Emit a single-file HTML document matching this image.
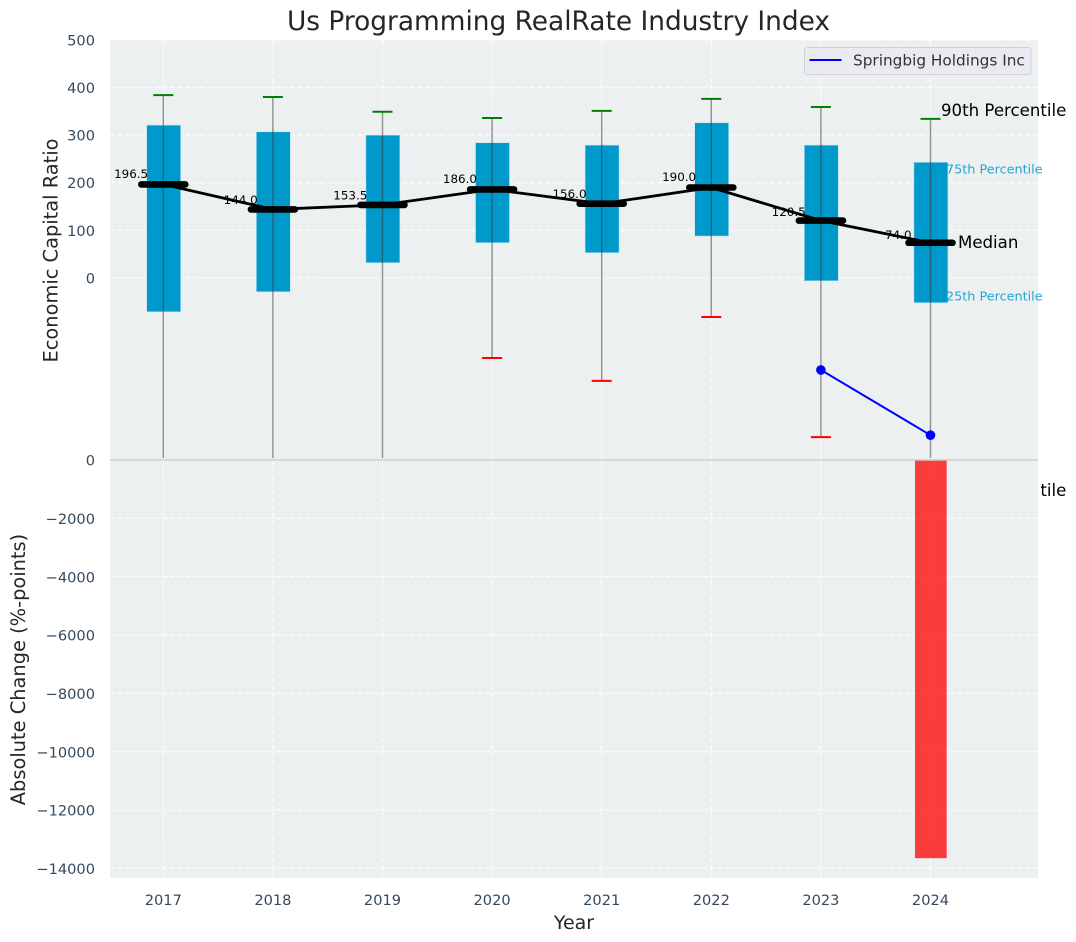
<!DOCTYPE html>
<html lang="en">
<head>
<meta charset="utf-8">
<title>Us Programming RealRate Industry Index</title>
<style>
html,body{margin:0;padding:0;background:#fff;width:1076px;height:942px;overflow:hidden}
svg{display:block;font-family:"DejaVu Sans","Liberation Sans",sans-serif}
</style>
</head>
<body>
<svg id="chart" width="1076" height="942" viewBox="0 0 1076 942" xmlns="http://www.w3.org/2000/svg">
<defs>
<clipPath id="top-clip"><rect x="110" y="40" width="928" height="418"/></clipPath>
<clipPath id="p10-note-clip"><rect x="1040.6" y="470" width="36" height="40"/></clipPath>
</defs>
<rect x="0" y="0" width="1076" height="942" fill="#ffffff"/>
<rect x="110" y="40" width="928" height="420" fill="#ecf0f1"/>
<g id="top-grid"></g>
<g id="top-marks"></g>
<g id="top-notes"></g>
<rect x="110" y="460" width="928" height="418" fill="#ecf0f1"/>
<g id="bottom-grid"></g>
<g id="bottom-marks"></g>
<line x1="110" x2="1038" y1="460" y2="460" stroke="#cccccc" stroke-width="1.5"/>
<g id="legend">
<rect x="804.5" y="47.5" width="226.5" height="27" rx="3" fill="#eaeaf2" stroke="#cfcfd4" stroke-width="1"/>
<line x1="809.5" x2="841.5" y1="60" y2="60" stroke="#0000ff" stroke-width="2"/>
<text x="853" y="65.5" font-size="15.3" fill="#333333">Springbig Holdings Inc</text>
</g>
<text x="558.5" y="30" text-anchor="middle" font-size="26.4" fill="#262626">Us Programming RealRate Industry Index</text>
<text transform="translate(57.3,250.5) rotate(-90)" text-anchor="middle" font-size="19.4" fill="#262626">Economic Capital Ratio</text>
<text transform="translate(25,669.5) rotate(-90)" text-anchor="middle" font-size="19.4" fill="#262626">Absolute Change (%-points)</text>
<text x="574" y="929" text-anchor="middle" font-size="19" fill="#262626">Year</text>
<g id="tick-labels"></g>
</svg>
<script>
const years = [2017, 2018, 2019, 2020, 2021, 2022, 2023, 2024];
const p90 = [384, 380, 349, 336, 351, 376, 359, 334];
const p75 = [321, 307, 300, 284, 279, 326, 279, 243];
const medians = [196.5, 144.0, 153.5, 186.0, 156.0, 190.0, 120.5, 74.0];
const p25 = [-71, -29, 32, 74, 53, 88, -6, -52];
const p10 = [-430, -420, -410, -168, -216, -82, -334, -420];
const companyYears = [2023, 2024];
const companyValues = [-193, -330];
const changeYears = [2024];
const changeValues = [-13650];
const upperTicks = [0, 100, 200, 300, 400, 500];
const lowerTicks = [0, -2000, -4000, -6000, -8000, -10000, -12000, -14000];

const NS = 'http://www.w3.org/2000/svg';
const xAxis = function (year) { return 163.3 + (year - 2017) * 109.6; };
const yUpper = function (value) { return 278 - value * 0.4763; };
const yLower = function (value) { return 460 - value * 0.02917; };

function make(parent, tag, attrs, text) {
  const el = document.createElementNS(NS, tag);
  for (const key in attrs) el.setAttribute(key, attrs[key]);
  if (text !== undefined) el.textContent = text;
  parent.appendChild(el);
  return el;
}

const topGrid = document.getElementById('top-grid');
const bottomGrid = document.getElementById('bottom-grid');
const topMarks = document.getElementById('top-marks');
const topNotes = document.getElementById('top-notes');
const bottomMarks = document.getElementById('bottom-marks');
const tickLabels = document.getElementById('tick-labels');
topMarks.setAttribute('clip-path', 'url(#top-clip)');

const gridStyle = { stroke: '#ffffff', 'stroke-width': 1.2, 'stroke-dasharray': '5 2.5', 'stroke-opacity': 0.85 };

upperTicks.forEach(function (tick) {
  const y = yUpper(tick);
  const line = make(topGrid, 'line', Object.assign({ x1: 110, x2: 1038, y1: y, y2: y }, gridStyle));
  
  
  const label = make(tickLabels, 'text', { x: 95, y: y + 5.5, 'text-anchor': 'end', 'font-size': 14.6, fill: '#34495e' }, String(tick));
  
  
});

lowerTicks.forEach(function (tick) {
  const y = yLower(tick);
  const line = make(bottomGrid, 'line', Object.assign({ x1: 110, x2: 1038, y1: y, y2: y }, gridStyle));
  
  
  const label = make(tickLabels, 'text', { x: 95, y: y + 5.6, 'text-anchor': 'end', 'font-size': 14.6, fill: '#34495e' }, String(tick).replace('-', '\u2212'));
  
  
});

years.forEach(function (year) {
  const x = xAxis(year);
  const upperLine = make(topGrid, 'line', Object.assign({ x1: x, x2: x, y1: 40, y2: 460 }, gridStyle));
  
  
  const lowerLine = make(bottomGrid, 'line', Object.assign({ x1: x, x2: x, y1: 460, y2: 878 }, gridStyle));
  
  
  const label = make(tickLabels, 'text', { x: x, y: 905, 'text-anchor': 'middle', 'font-size': 14.6, fill: '#34495e' }, String(year));
  
  
});

years.forEach(function (year, i) {
  const x = xAxis(year);
  const box = make(topMarks, 'rect', {
    x: x - 16.6, y: yUpper(p75[i]), width: 34, height: yUpper(p25[i]) - yUpper(p75[i]),
    fill: '#0099cc', stroke: '#bfe3ef', 'stroke-width': 0.6
  });
  
  
});

years.forEach(function (year, i) {
  const x = xAxis(year);
  const whisker = make(topMarks, 'line', {
    x1: x, x2: x, y1: yUpper(p90[i]), y2: yUpper(p10[i]), stroke: '#3a3a3a', 'stroke-opacity': 0.55, 'stroke-width': 1.4
  });
  
  
  const capHigh = make(topMarks, 'line', {
    x1: x - 10, x2: x + 10, y1: yUpper(p90[i]), y2: yUpper(p90[i]), stroke: '#008000', 'stroke-width': 2
  });
  
  
  const capLow = make(topMarks, 'line', {
    x1: x - 10, x2: x + 10, y1: yUpper(p10[i]), y2: yUpper(p10[i]), stroke: '#ff0000', 'stroke-width': 2
  });
  
  
});

const medianPath = make(topMarks, 'polyline', {
  points: years.map(function (year, i) { return xAxis(year) + ',' + yUpper(medians[i]); }).join(' '),
  fill: 'none', stroke: '#000000', 'stroke-width': 2.8
});



years.forEach(function (year, i) {
  const x = xAxis(year);
  const y = yUpper(medians[i]);
  const bar = make(topMarks, 'line', {
    x1: x - 22, x2: x + 22, y1: y, y2: y, stroke: '#000000', 'stroke-width': 6.6, 'stroke-linecap': 'round'
  });
  
  
});

const companyPath = make(topMarks, 'polyline', {
  points: companyYears.map(function (year, i) { return xAxis(year) + ',' + yUpper(companyValues[i]); }).join(' '),
  fill: 'none', stroke: '#0000ff', 'stroke-width': 2
});



companyYears.forEach(function (year, i) {
  const dot = make(topMarks, 'circle', { cx: xAxis(year), cy: yUpper(companyValues[i]), r: 4.8, fill: '#0000ff' });
  
  
});

years.forEach(function (year, i) {
  const label = make(topNotes, 'text', {
    x: xAxis(year) - 32.2, y: yUpper(medians[i] * 1.05) - 1.9, 'text-anchor': 'middle', 'font-size': 11.9, fill: '#000000'
  }, medians[i].toFixed(1));
  
  
});

const lastX = xAxis(years[years.length - 1]);
const lastIndex = years.length - 1;
const note90 = make(topNotes, 'text', { x: lastX + 10.5, y: yUpper(p90[lastIndex]) - 2.8, 'font-size': 16.6, fill: '#000000' }, '90th Percentile');


const note75 = make(topNotes, 'text', { x: lastX + 15.5, y: yUpper(p75[lastIndex]) + 11, 'font-size': 12.8, fill: '#0099cc', 'fill-opacity': 0.85 }, '75th Percentile');


const noteMedian = make(topNotes, 'text', { x: lastX + 27.5, y: yUpper(medians[lastIndex]) + 5.2, 'font-size': 16.6, fill: '#000000' }, 'Median');


const note25 = make(topNotes, 'text', { x: lastX + 15.5, y: yUpper(p25[lastIndex]) - 2.5, 'font-size': 12.8, fill: '#0099cc', 'fill-opacity': 0.85 }, '25th Percentile');


const note10 = make(topNotes, 'text', { x: lastX + 10.5, y: 496, 'font-size': 16.6, fill: '#000000', 'clip-path': 'url(#p10-note-clip)' }, '10th Percentile');



changeYears.forEach(function (year, i) {
  const x = xAxis(year);
  const bar = make(bottomMarks, 'rect', {
    x: x - 15.5, y: yLower(0), width: 31.7, height: yLower(changeValues[i]) - yLower(0),
    fill: '#ff0000', 'fill-opacity': 0.75
  });
  
  
});
</script>
</body>
</html>
